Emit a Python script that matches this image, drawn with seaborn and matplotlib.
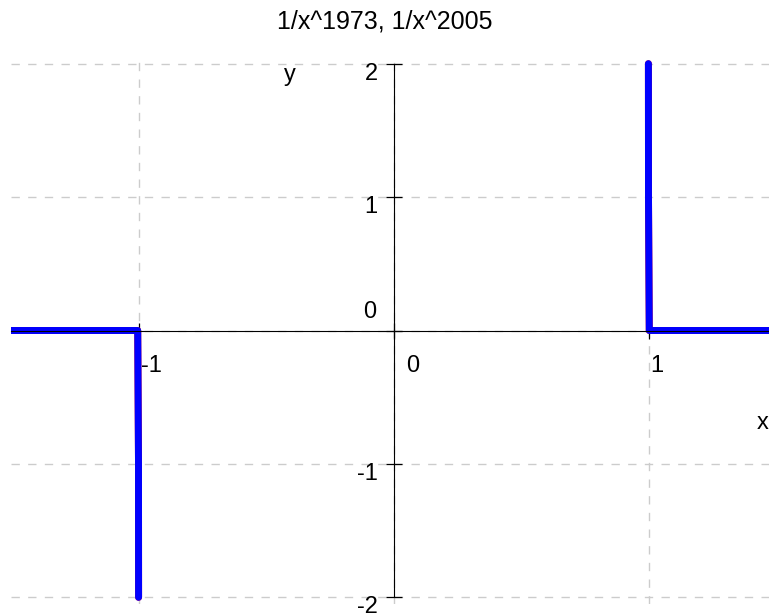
import numpy as np
import pandas as pd
import matplotlib
matplotlib.use("Agg")
import matplotlib.pyplot as plt
import matplotlib.transforms as mtransforms
import seaborn as sns

# значения
titles = ["1/x^1973", "1/x^2005"]
x_neg = [-1.5, -1.003, -1.0, -0.99965]
y_neg = [0.0, 0.0, -1.0, -2.0]
x_pos = [0.99965, 1.0, 1.003, 1.5]
y_pos = [2.0, 1.0, 0.0, 0.0]
x_ticks = [-1, 0, 1]
x_tick_labels = ["-1", "0", "1"]
y_ticks = [-2, -1, 0, 1, 2]
y_tick_labels = ["-2", "-1", "0", "1", "2"]

rows = []
for name in titles:
    for seg, (xs, ys) in enumerate([(x_neg, y_neg), (x_pos, y_pos)]):
        for xv, yv in zip(xs, ys):
            rows.append({"x": xv, "y": yv, "func": name, "seg": seg})
df = pd.DataFrame(rows)

sns.set_style("white")
plt.rcParams["font.family"] = ["Liberation Sans", "DejaVu Sans"]
plt.rcParams["text.color"] = "black"
plt.rcParams["axes.labelcolor"] = "black"

W, H = 769, 614
fig = plt.figure(figsize=(W / 100, H / 100), dpi=100)
# оси: x=-1.5 на 11px, 255px на единицу; y=0 на 330px, 133px на единицу
ax = fig.add_axes([11 / W, (H - 604) / H, 765 / W, 547 / H])

sns.lineplot(data=df, x="x", y="y", hue="func", units="seg", estimator=None,
             sort=False, palette={"1/x^1973": "red", "1/x^2005": "blue"},
             hue_order=titles, lw=5, solid_capstyle="round", legend=False, ax=ax)

ax.set_xlim(-1.5, 1.5)
ax.set_ylim(-2.05, 2.05)
ax.set_xticks(x_ticks)
ax.set_yticks(y_ticks)
ax.tick_params(direction="inout", length=12, width=0.9, color="black",
               bottom=True, left=True, labelbottom=False, labelleft=False)
ax.grid(True, color="#cccccc", lw=1.0, ls=(0, (6, 6)))
ax.set_axisbelow(True)

for side in ["top", "right"]:
    ax.spines[side].set_visible(False)
for side in ["left", "bottom"]:
    ax.spines[side].set_position(("data", 0))
    ax.spines[side].set_color("black")
    ax.spines[side].set_linewidth(0.8)
ax.spines["left"].set_bounds(-2, 2)

# подписи делений
fs = 17
for v, lab in zip(x_ticks, x_tick_labels):
    dx = 13 if v == 0 else 2
    tr = mtransforms.offset_copy(ax.transData, fig=fig, x=dx, y=-25, units="dots")
    ax.text(v, 0, lab, transform=tr, ha="left", va="top", fontsize=fs)
for v, lab in zip(y_ticks, y_tick_labels):
    if v == 0:
        tr = mtransforms.offset_copy(ax.transData, fig=fig, x=-17, y=7, units="dots")
        ax.text(0, v, lab, transform=tr, ha="right", va="bottom", fontsize=fs)
    else:
        tr = mtransforms.offset_copy(ax.transData, fig=fig, x=-16, y=1, units="dots")
        ax.text(0, v, lab, transform=tr, ha="right", va="top", fontsize=fs)

ax.set_xlabel("x", fontsize=fs)
ax.set_ylabel("y", fontsize=fs, rotation=0)
ax.xaxis.set_label_coords(0.982, 0.331)
ax.yaxis.set_label_coords(0.365, 0.967)
ax.xaxis.label.set_va("center")
ax.yaxis.label.set_va("center")

fig.text(0.5, 1 - 22 / H, ", ".join(titles), ha="center", va="center", fontsize=18)

fig.savefig("out.png", dpi=100)
